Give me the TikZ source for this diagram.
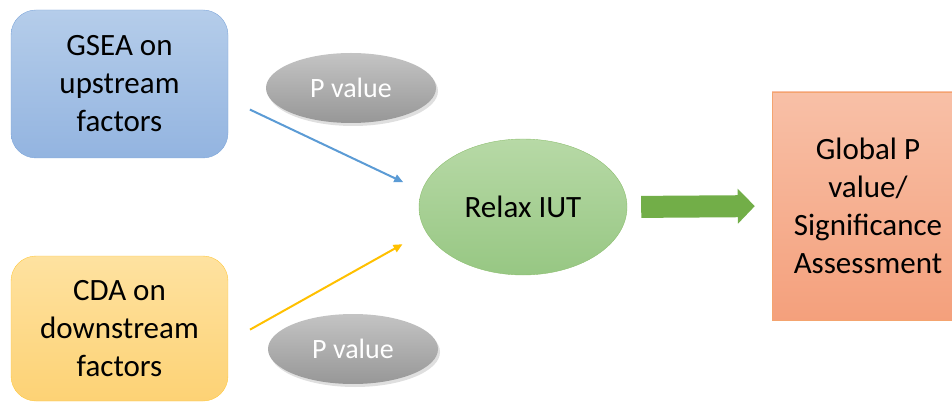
\documentclass[tikz,border=0pt]{standalone}
\usepackage{fontspec}
\setmainfont{Carlito}
\usetikzlibrary{shapes.geometric, arrows.meta, shadows}

\begin{document}
\begin{tikzpicture}[x=1pt, y=-1pt,
		boxtext/.style={font=\fontsize{31pt}{38pt}\selectfont, align=center, inner sep=0pt},
		pvalue/.style={ellipse, minimum width=170pt, minimum height=70pt, inner sep=0pt,
			top color=pvaltop, bottom color=pvalbot, draw=none, text=white,
			font=\fontsize{28pt}{34pt}\selectfont,
			drop shadow={shadow xshift=2pt, shadow yshift=-3pt, opacity=0.25}},
		thinarrow/.style={line width=2pt, -{Triangle[length=9pt, width=8pt]}}]
	
	% Color definitions
	\definecolor{upbluetop}{HTML}{B5CDEA}
	\definecolor{upbluebot}{HTML}{93B4E0}
	\definecolor{upblueline}{HTML}{7EA6DA}
	\definecolor{downyeltop}{HTML}{FEE2A0}
	\definecolor{downyelbot}{HTML}{FDD275}
	\definecolor{downyelline}{HTML}{FFC83D}
	\definecolor{pvaltop}{HTML}{C4C4C4}
	\definecolor{pvalbot}{HTML}{979797}
	\definecolor{iuttop}{HTML}{B7D9A6}
	\definecolor{iutbot}{HTML}{97C783}
	\definecolor{iutline}{HTML}{8DBF70}
	\definecolor{globaltop}{HTML}{F8C0A7}
	\definecolor{globalbot}{HTML}{F4A07C}
	\definecolor{globalline}{HTML}{F4A46F}
	\definecolor{uparrow}{HTML}{5B9BD5}
	\definecolor{downarrow}{HTML}{FFC000}
	\definecolor{fatgreen}{HTML}{72AE48}
	
	\useasboundingbox (0,0) rectangle (952,403);
	
	% --- Nodes ---
	% GSEA
	\node[boxtext, rounded corners=25pt, minimum width=217pt, minimum height=148pt,
	top color=upbluetop, bottom color=upbluebot, draw=upblueline]
	(gsea) at (119.5, 84) {GSEA on\\upstream\\factors};
	
	% CDA
	\node[boxtext, rounded corners=25pt, minimum width=217pt, minimum height=145pt,
	top color=downyeltop, bottom color=downyelbot, draw=downyelline]
	(cda) at (119.5, 328.5) {CDA on\\downstream\\factors};
	
	% P values
	\node[pvalue] (pup) at (351, 88) {P value};
	\node[pvalue] (pdown) at (353, 349) {P value};
	
	% Relax IUT
	\node[ellipse, minimum width=208pt, minimum height=136pt, inner sep=0pt,
	top color=iuttop, bottom color=iutbot, draw=iutline,
	font=\fontsize{31pt}{38pt}\selectfont]
	(relax) at (523, 207) {Relax IUT};
	
	% Global P value
	\node[boxtext, minimum width=192pt, minimum height=228pt,
	top color=globaltop, bottom color=globalbot, draw=globalline]
	(global) at (868, 206) {Global P\\value/\\Significance\\Assessment};
	
	% --- Connectors ---
	\draw[thinarrow, uparrow, shorten <=24pt, shorten >=20.5pt]
	(gsea.-8.7) -- (relax.171.4);
	\draw[thinarrow, downarrow, shorten <=25pt, shorten >=26.5pt]
	(cda.-7.4) -- (relax.-166.9);
	\draw[fatgreen, line width=22pt, shorten <=14pt, shorten >=17pt,
	-{Triangle[length=17pt, width=34pt]}]
	(relax.east) -- (global.west);
	
\end{tikzpicture}
\end{document}
